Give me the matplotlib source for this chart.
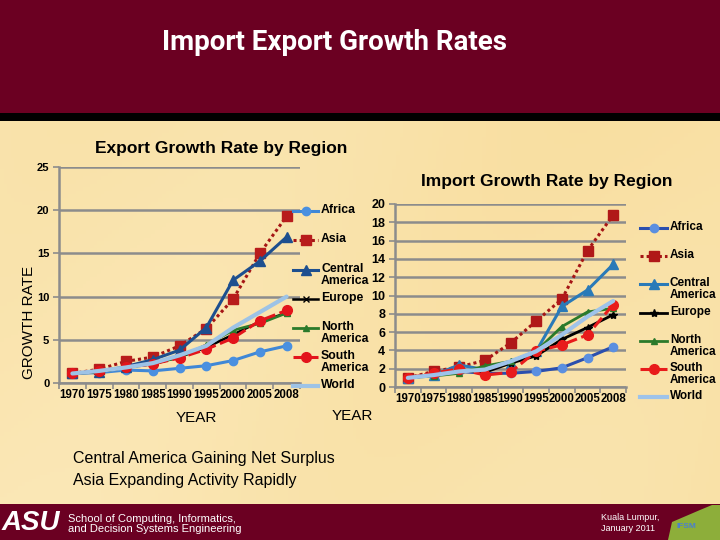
import numpy as np
import matplotlib
matplotlib.use("Agg")
import matplotlib.pyplot as plt
from matplotlib.patches import Rectangle, Polygon
from matplotlib.lines import Line2D

plt.rcParams['font.family'] = ['Liberation Sans', 'DejaVu Sans']

# ---------------- data ----------------
years = ['1970', '1975', '1980', '1985', '1990', '1995', '2000', '2005', '2008']
regions = ['Africa', 'Asia', 'Central\nAmerica', 'Europe', 'North\nAmerica', 'South\nAmerica', 'World']

africa_exp = [1.1, 1.2, 1.5, 1.4, 1.7, 2.0, 2.6, 3.6, 4.3]
asia_exp = [1.1, 1.6, 2.5, 3.0, 4.3, 6.3, 9.7, 15.0, 19.3]
camer_exp = [1.1, 1.3, 1.9, 2.7, 3.8, 6.4, 11.9, 14.1, 16.9]
europe_exp = [1.1, 1.3, 1.8, 2.2, 3.0, 4.1, 5.6, 7.1, 8.1]
namer_exp = [1.1, 1.3, 1.8, 2.2, 3.0, 4.4, 6.1, 6.9, 8.1]
samer_exp = [1.1, 1.4, 1.8, 2.2, 2.9, 3.9, 5.2, 7.2, 8.4]
world_exp = [1.1, 1.4, 1.8, 2.3, 3.2, 4.3, 6.4, 8.2, 10.0]

africa_imp = [1.0, 1.3, 1.7, 1.5, 1.5, 1.7, 2.1, 3.2, 4.4]
asia_imp = [1.0, 1.7, 2.2, 2.9, 4.8, 7.2, 9.6, 14.9, 18.8]
camer_imp = [1.0, 1.3, 2.4, 1.9, 2.6, 3.9, 8.8, 10.6, 13.4]
europe_imp = [1.0, 1.3, 1.8, 1.6, 2.6, 3.4, 5.2, 6.5, 7.9]
namer_imp = [1.0, 1.2, 1.5, 2.3, 2.8, 3.9, 6.6, 8.2, 8.6]
samer_imp = [1.0, 1.5, 2.0, 1.3, 1.6, 3.9, 4.6, 5.7, 9.0]
world_imp = [1.0, 1.3, 1.7, 1.9, 2.8, 3.9, 5.7, 7.7, 9.4]

export_series = [africa_exp, asia_exp, camer_exp, europe_exp, namer_exp, samer_exp, world_exp]
import_series = [africa_imp, asia_imp, camer_imp, europe_imp, namer_imp, samer_imp, world_imp]

# ---------------- styles ----------------
exp_styles = [
    dict(color='#3F87D6', ls='-', marker='o', ms=6, mfc='#4A90E0', mec='#4A90E0', lw=2.2),
    dict(color='#A51515', ls=(0, (1, 1)), marker='s', ms=7, mfc='#B81C1C', mec='#B81C1C', lw=2.2),
    dict(color='#1D4F8F', ls='-', marker='^', ms=7, mfc='#1D4F8F', mec='#1D4F8F', lw=2.2),
    dict(color='#000000', ls='-', marker='x', ms=5, mfc='#000000', mec='#000000', lw=1.8),
    dict(color='#2B7A2B', ls='-', marker='^', ms=5, mfc='#2B7A2B', mec='#2B7A2B', lw=2.0),
    dict(color='#E3141B', ls=(0, (4, 1.5)), marker='o', ms=7, mfc='#E3141B', mec='#E3141B', lw=2.2),
    dict(color='#9DC3E6', ls='-', marker=None, ms=0, mfc='#9DC3E6', mec='#9DC3E6', lw=3.0),
]
imp_styles = [
    dict(color='#2B4FAE', ls='-', marker='o', ms=6, mfc='#5B8FE0', mec='#5B8FE0', lw=2.2),
    dict(color='#A51515', ls=(0, (1, 1)), marker='s', ms=7, mfc='#B01818', mec='#B01818', lw=2.2),
    dict(color='#2A7AB8', ls='-', marker='^', ms=7, mfc='#2A7AB8', mec='#2A7AB8', lw=2.2),
    dict(color='#000000', ls='-', marker='*', ms=6, mfc='#000000', mec='#000000', lw=2.0),
    dict(color='#2B7A2B', ls='-', marker='^', ms=5, mfc='#2B7A2B', mec='#2B7A2B', lw=2.0),
    dict(color='#E81B1B', ls=(0, (4, 1.5)), marker='o', ms=7, mfc='#E81B1B', mec='#E81B1B', lw=2.2),
    dict(color='#9EC3EA', ls='-', marker=None, ms=0, mfc='#9EC3EA', mec='#9EC3EA', lw=3.0),
]

W, H = 720, 540
fig = plt.figure(figsize=(7.2, 5.4), dpi=100)


def rect(x0, y0, x1, y1):
    """pixel box (top-left origin) -> figure fraction rect"""
    return [x0 / W, 1 - y1 / H, (x1 - x0) / W, (y1 - y0) / H]


def fx(x):
    return x / W


def fy(y):
    return 1 - y / H


# ---------------- background ----------------
bg = fig.add_axes([0, 0, 1, 1], zorder=-10)
gx = np.linspace(0, 1, 200)
gy = np.linspace(0, 1, 150)
GX, GY = np.meshgrid(gx, gy)
val = 0.55 + 0.25 * GX - 0.15 * GY + 0.08 * np.sin(GX * 9 + GY * 4)
c1 = np.array([0xFC, 0xEE, 0xC6]) / 255
c2 = np.array([0xF8, 0xDB, 0x98]) / 255
img = c1[None, None, :] * (1 - val[..., None]) + c2[None, None, :] * val[..., None]
img = np.clip(img, 0, 1)
bg.imshow(img, extent=[0, 1, 0, 1], aspect='auto', origin='upper')
bg.set_xlim(0, 1)
bg.set_ylim(0, 1)
bg.axis('off')

# header / footer
fig.patches.append(Rectangle((0, fy(113)), 1, 113 / H, transform=fig.transFigure,
                             facecolor='#6B0022', edgecolor='none', zorder=-5))
fig.patches.append(Rectangle((0, fy(121)), 1, 8 / H, transform=fig.transFigure,
                             facecolor='#000000', edgecolor='none', zorder=-5))
fig.patches.append(Rectangle((0, 0), 1, 36 / H, transform=fig.transFigure,
                             facecolor='#6B0022', edgecolor='none', zorder=-5))
fig.patches.append(Polygon([(fx(668), fy(540)), (fx(672), fy(522)), (fx(700), fy(510)),
                            (fx(712), fy(505)), (fx(720), fy(505)), (fx(720), fy(540))],
                           closed=True, transform=fig.transFigure,
                           facecolor='#8DAE3A', edgecolor='none', zorder=-4))

fig.text(fx(335), fy(43), 'Import Export Growth Rates', color='white', fontsize=20,
         fontweight='bold', ha='center', va='center',
         family=['Roboto', 'Liberation Sans', 'DejaVu Sans'])

fig.text(fx(2), fy(523), 'ASU', color='white', fontsize=20, fontweight='bold',
         style='italic', ha='left', va='center')
fig.text(fx(68), fy(524), 'School of Computing, Informatics,\nand Decision Systems Engineering',
         color='white', fontsize=8, ha='left', va='center', linespacing=0.95)
fig.text(fx(601), fy(523), 'Kuala Lumpur,\nJanuary 2011', color='white', fontsize=6.5,
         ha='left', va='center', linespacing=1.3)
fig.text(fx(686), fy(527), 'IFSM', color='#4A7FD0', fontsize=6, fontweight='bold',
         ha='center', va='center')

fig.text(fx(73), fy(459), 'Central America Gaining Net Surplus', fontsize=11.5,
         ha='left', va='center', color='black')
fig.text(fx(73), fy(481), 'Asia Expanding Activity Rapidly', fontsize=11.5,
         ha='left', va='center', color='black')


def style_axes(ax, ymax, ystep, ytick_fs):
    ax.set_facecolor('none')
    x = np.arange(len(years))
    ax.set_xlim(-0.5, len(years) - 0.5)
    ax.set_ylim(0, ymax)
    ax.set_yticks(np.arange(0, ymax + 0.001, ystep))
    ax.set_xticks(x)
    ax.set_xticklabels(years)
    ax.set_xticks(np.arange(-0.5, len(years), 1), minor=True)
    ax.tick_params(axis='x', which='major', length=0, labelsize=8.3, pad=4)
    ax.tick_params(axis='x', which='minor', length=4, color='#8C8C8C', width=1.2, direction='out')
    ax.tick_params(axis='y', length=4, color='#8C8C8C', width=1.2, labelsize=ytick_fs, pad=3)
    for lab in ax.get_xticklabels() + ax.get_yticklabels():
        lab.set_fontweight('bold')
    ax.grid(axis='y', color='#8C8C8C', lw=1.8)
    ax.set_axisbelow(True)
    for s in ['top', 'right']:
        ax.spines[s].set_visible(False)
    for s in ['left', 'bottom']:
        ax.spines[s].set_color('#8C8C8C')
        ax.spines[s].set_linewidth(1.8)


def draw_series(ax, series, styles):
    x = np.arange(len(years))
    for vals, st in zip(series, styles):
        ax.plot(x, vals, color=st['color'], ls=st['ls'], lw=st['lw'], marker=st['marker'],
                ms=st['ms'], mfc=st['mfc'], mec=st['mec'], solid_capstyle='round')


def draw_legend(x_line0, x_line1, x_text, y_rows, styles, fs):
    for lab, st, yy in zip(regions, styles, y_rows):
        ln = Line2D([fx(x_line0), fx(x_line1)], [fy(yy), fy(yy)], transform=fig.transFigure,
                    color=st['color'], ls=st['ls'], lw=st['lw'])
        fig.add_artist(ln)
        if st['marker']:
            mk = Line2D([fx((x_line0 + x_line1) / 2)], [fy(yy)], transform=fig.transFigure,
                        marker=st['marker'], ms=st['ms'], mfc=st['mfc'], mec=st['mec'], ls='none')
            fig.add_artist(mk)
        fig.text(fx(x_text), fy(yy - 7), lab, fontsize=fs, fontweight='bold', ha='left',
                 va='top', linespacing=1.05)


# ---------------- export chart ----------------
ax1 = fig.add_axes(rect(59, 167, 300, 383))
style_axes(ax1, 25, 5, 8)
draw_series(ax1, export_series, exp_styles)
fig.text(fx(221), fy(148), 'Export Growth Rate by Region', fontsize=12.5, fontweight='bold',
         ha='center', va='center')
fig.text(fx(29), fy(322), 'GROWTH RATE', fontsize=11, rotation=90, ha='center', va='center')
fig.text(fx(196), fy(418), 'YEAR', fontsize=11, ha='center', va='center')
draw_legend(293, 318, 321, [211, 240, 270, 299, 328, 357, 386], exp_styles, 8.8)

# ---------------- import chart ----------------
ax2 = fig.add_axes(rect(395, 204, 626, 387))
style_axes(ax2, 20, 2, 9)
draw_series(ax2, import_series, imp_styles)
fig.text(fx(547), fy(181), 'Import Growth Rate by Region', fontsize=12.5, fontweight='bold',
         ha='center', va='center')
fig.text(fx(352), fy(416), 'YEAR', fontsize=11, ha='center', va='center')
draw_legend(640, 667, 670, [228, 256, 284, 313, 341, 369, 397], imp_styles, 8.5)

fig.savefig('out.png', dpi=100)
